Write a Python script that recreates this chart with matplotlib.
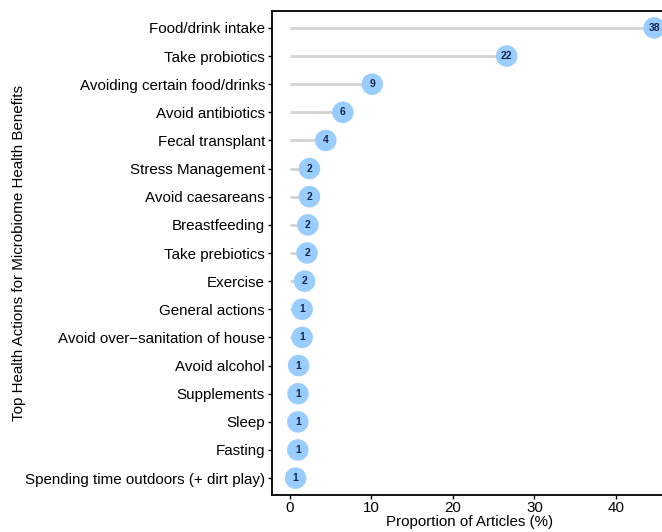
import matplotlib.pyplot as plt

plt.rcParams['font.family'] = ['Liberation Sans', 'DejaVu Sans']

actions = ['Food/drink intake', 'Take probiotics', 'Avoiding certain food/drinks',
           'Avoid antibiotics', 'Fecal transplant', 'Stress Management',
           'Avoid caesareans', 'Breastfeeding', 'Take prebiotics', 'Exercise',
           'General actions', 'Avoid over\u2212sanitation of house', 'Avoid alcohol',
           'Supplements', 'Sleep', 'Fasting', 'Spending time outdoors (+ dirt play)']
proportion = [44.7, 26.6, 10.1, 6.5, 4.4, 2.4, 2.4, 2.2, 2.1, 1.8,
              1.5, 1.5, 1.07, 1.0, 0.97, 0.97, 0.7]
counts = [38, 22, 9, 6, 4, 2, 2, 2, 2, 2, 1, 1, 1, 1, 1, 1, 1]

fig = plt.figure(figsize=(6.62, 5.32), dpi=100)
ax = fig.add_axes([272 / 662, 1 - 495 / 532, 396 / 662, 484 / 532])

n = len(actions)
ypos = list(range(n - 1, -1, -1))

ax.hlines(ypos, 0, proportion, color='#d3d3d3', linewidth=2.0, zorder=1)
ax.scatter(proportion, ypos, s=240, color='#99ccff', edgecolors='none', zorder=2, clip_on=False)
for x, y, c in zip(proportion, ypos, counts):
    ax.text(x, y, str(c), ha='center', va='center', fontsize=7.5,
            fontweight='bold', color='#14284b', zorder=3)

ax.set_yticks(ypos)
ax.set_yticklabels(actions, fontsize=10.9, color='black')
ax.set_xticks([0, 10, 20, 30, 40])
ax.tick_params(axis='x', labelsize=10.9, labelcolor='black', length=3, width=1, pad=1)
ax.tick_params(axis='y', length=3, width=1, pad=2)
ax.set_xlim(-2.2, 46.4)
ax.set_ylim(-0.6, n - 0.4)

for s in ax.spines.values():
    s.set_linewidth(1.3)
    s.set_color('black')

ax.set_xlabel('Proportion of Articles (%)', fontsize=10.9, labelpad=0)
ax.set_ylabel('Top Health Actions for Microbiome Health Benefits', fontsize=10.9, labelpad=-1)

fig.savefig('out.png', dpi=100)
